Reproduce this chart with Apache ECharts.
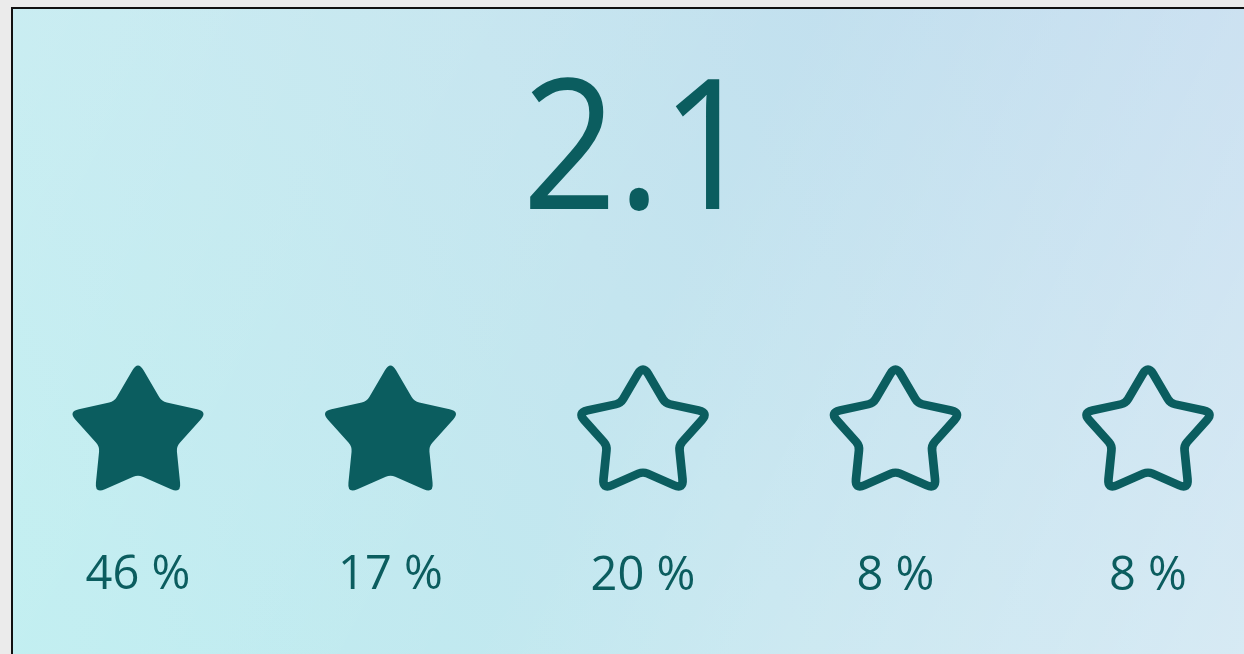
<!DOCTYPE html>
<html>
<head>
<meta charset="utf-8">
<script src="https://cdn.jsdelivr.net/npm/echarts@6/dist/echarts.min.js"></script>
<style>
html,body{margin:0;padding:0;background:#ebebeb;}
#chart{width:1244px;height:654px;}
</style>
</head>
<body>
<div id="chart"></div>
<script>
const ratings = [1, 2, 3, 4, 5];
const percents = [46, 17, 20, 8, 8];
const percentLabels = ['46 %', '17 %', '20 %', '8 %', '8 %'];
const averageScore = '2.1';
const averageValue = 2.1;

const teal = '#0b5d5f';

// rounded five-point star outline (icon shape)
function roundedStarPath(R, r, tOuter, tInner) {
  const v = [];
  for (let i = 0; i < 10; i++) {
    const ang = -Math.PI / 2 + i * Math.PI / 5;
    const rad = i % 2 === 0 ? R : r;
    v.push([Math.cos(ang) * rad, Math.sin(ang) * rad]);
  }
  const f = n => n.toFixed(2);
  let d = '';
  for (let i = 0; i < 10; i++) {
    const V = v[i], P = v[(i + 9) % 10], N = v[(i + 1) % 10];
    const t = i % 2 === 0 ? tOuter : tInner;
    const lp = Math.hypot(P[0] - V[0], P[1] - V[1]);
    const ln = Math.hypot(N[0] - V[0], N[1] - V[1]);
    const A = [V[0] + (P[0] - V[0]) * t / lp, V[1] + (P[1] - V[1]) * t / lp];
    const B = [V[0] + (N[0] - V[0]) * t / ln, V[1] + (N[1] - V[1]) * t / ln];
    d += (i === 0 ? 'M' : ' L') + f(A[0]) + ' ' + f(A[1]) +
         ' Q' + f(V[0]) + ' ' + f(V[1]) + ' ' + f(B[0]) + ' ' + f(B[1]);
  }
  return 'path://' + d + ' Z';
}
const STAR = roundedStarPath(100, 55, 15, 7);

const chart = echarts.init(document.getElementById('chart'), null, {renderer: 'canvas'});

const filledCount = Math.floor(averageValue);
const data = ratings.map((r, i) => {
  const filled = r <= filledCount;
  return {
    value: [r, 0.5],
    symbolSize: filled ? [131, 125] : [123, 117],
    itemStyle: filled
      ? {color: teal, borderWidth: 0, opacity: 1}
      : {color: 'rgba(0,0,0,0)', borderColor: teal, borderWidth: 8.5, borderJoin: 'round', opacity: 1}
  };
});

chart.setOption({
  animation: false,
  backgroundColor: '#ebebeb',
  graphic: [
    {
      type: 'rect', z: -10, silent: true,
      shape: {x: 12, y: 8, width: 1260, height: 680},
      style: {
        fill: new echarts.graphic.LinearGradient(0, 1, 1, 0, [
          {offset: 0, color: '#bdeef0'},
          {offset: 0.5, color: '#c4e5ef'},
          {offset: 1, color: '#c0daee'}
        ]),
        stroke: '#111', lineWidth: 2
      }
    },
    {
      type: 'rect', z: -9, silent: true,
      shape: {x: 13, y: 9, width: 1240, height: 660},
      style: {
        fill: new echarts.graphic.LinearGradient(0, 0, 1, 1, [
          {offset: 0, color: 'rgba(255,255,255,0.15)'},
          {offset: 0.5, color: 'rgba(255,255,255,0)'},
          {offset: 1, color: 'rgba(255,255,255,0.35)'}
        ])
      }
    },
    {
      type: 'text', z: 10,
      x: 639, y: 157,
      scaleX: 0.92,
      style: {
        text: averageScore,
        fill: teal,
        font: 'normal 181px "Open Sans", "Noto Sans", sans-serif',
        align: 'center',
        verticalAlign: 'middle'
      }
    }
  ],
  grid: {left: 138, right: 96, top: 300, bottom: 98},
  xAxis: {type: 'value', min: 1, max: 5, show: false},
  yAxis: {type: 'value', min: 0, max: 1, show: false},
  series: [{
    type: 'scatter',
    symbol: STAR,
    data: data,
    itemStyle: {opacity: 1},
    label: {
      show: true,
      position: 'bottom',
      distance: 62,
      color: teal,
      opacity: 1,
      fontSize: 47,
      fontFamily: '"Open Sans", "Noto Sans", sans-serif',
      formatter: p => percentLabels[p.dataIndex]
    }
  }]
});
</script>
</body>
</html>
